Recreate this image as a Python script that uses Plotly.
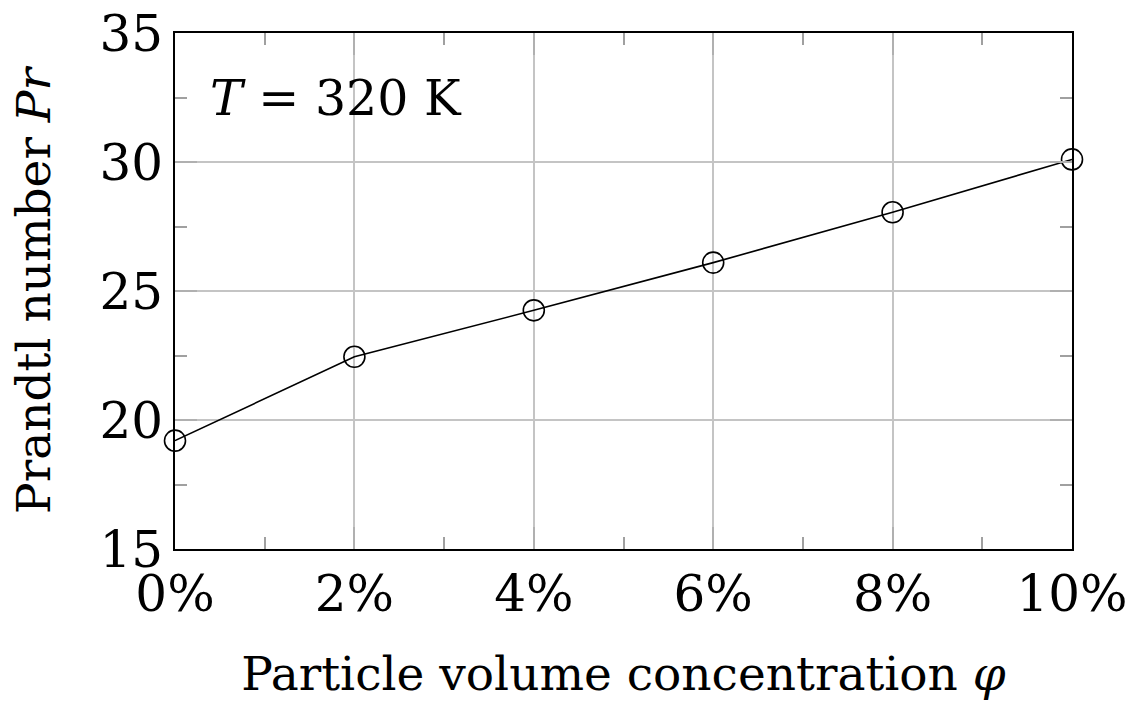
import plotly.graph_objects as go

phi = [0, 2, 4, 6, 8, 10]
pr = [19.2, 22.45, 24.25, 26.1, 28.05, 30.1]
x_ticks = [0, 2, 4, 6, 8, 10]
x_labels = ["0%", "2%", "4%", "6%", "8%", "10%"]
y_ticks = [15, 20, 25, 30, 35]

FONT = "DejaVu Serif"

fig = go.Figure()
fig.add_trace(go.Scatter(
    x=phi, y=pr, mode="lines+markers",
    line=dict(color="black", width=1.6),
    marker=dict(symbol="circle-open", size=21, color="black", line=dict(width=1.6)),
    cliponaxis=False, showlegend=False,
))

axis_common = dict(
    showline=True, linecolor="black", linewidth=2, mirror="allticks",
    ticks="inside", ticklen=22, tickcolor="#b0b0b0", tickwidth=1.5,
    showgrid=True, gridcolor="#c4c4c4", gridwidth=1.5, zeroline=False,
    tickfont=dict(family=FONT, size=50, color="black"),
    automargin=False, ticklabeloverflow="allow",
)

fig.update_xaxes(
    range=[0, 10], tickvals=x_ticks, ticktext=x_labels,
    minor=dict(dtick=1, tick0=0, ticks="inside", ticklen=12, tickcolor="#a0a0a0", tickwidth=1.5, showgrid=False),
    title=dict(text="Particle volume concentration <i>φ</i>", font=dict(family=FONT, size=47, color="black"), standoff=35),
    **axis_common,
)
fig.update_yaxes(
    range=[15, 35], tickvals=y_ticks,
    minor=dict(dtick=2.5, tick0=15, ticks="inside", ticklen=12, tickcolor="#a0a0a0", tickwidth=1.5, showgrid=False),
    title=dict(text="Prandtl number <i>Pr</i>", font=dict(family=FONT, size=47, color="black"), standoff=34),
    **axis_common,
)

fig.add_annotation(
    x=0.037, y=0.874, xref="paper", yref="paper", xanchor="left", yanchor="middle",
    text="<i>T</i> = 320 K", showarrow=False,
    font=dict(family=FONT, size=49, color="black"),
)

fig.update_layout(
    width=1134, height=706,
    margin=dict(l=175, r=62, t=33, b=157),
    plot_bgcolor="white", paper_bgcolor="white",
)

fig.write_html("out.html", config={"displayModeBar": False},
               post_script="document.body.style.margin='0';")
